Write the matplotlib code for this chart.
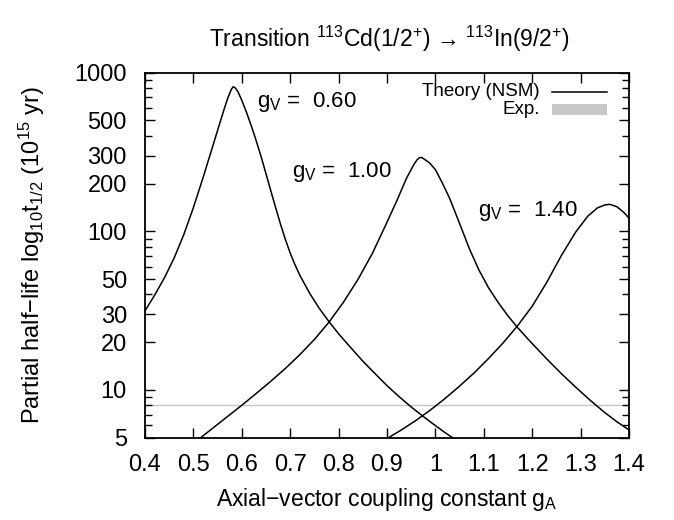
import matplotlib
matplotlib.use('Agg')
import matplotlib.pyplot as plt
from matplotlib.ticker import FixedLocator, FixedFormatter, LogLocator, NullFormatter
from matplotlib.lines import Line2D
from matplotlib.patches import Rectangle

plt.rcParams['font.family'] = ['Liberation Sans', 'DejaVu Sans']
plt.rcParams['mathtext.fontset'] = 'custom'
plt.rcParams['mathtext.rm'] = 'Liberation Sans'
plt.rcParams['mathtext.it'] = 'Liberation Sans:italic'

# curves: g_A -> partial half-life (10^15 yr)
ga_060 = [0.400, 0.420, 0.440, 0.460, 0.480, 0.500, 0.520, 0.540, 0.555, 0.565,
          0.572, 0.578, 0.582, 0.586, 0.592, 0.600, 0.610, 0.620, 0.630, 0.640,
          0.650, 0.660, 0.670, 0.680, 0.690, 0.700, 0.710, 0.720, 0.740, 0.760,
          0.780, 0.800, 0.825, 0.850, 0.875, 0.900, 0.925, 0.950, 0.975, 1.000,
          1.020, 1.040]
t_060 = [31.5, 39.6, 50.8, 67.6, 95, 141, 218, 344, 485, 608,
         703, 780, 815, 805, 760, 670, 560, 459, 371, 295,
         231, 180, 141, 111, 89, 73, 61.5, 52.8, 40.8, 32.7,
         27.0, 22.6, 18.5, 15.2, 12.7, 10.65, 9.07, 7.81, 6.80, 5.96,
         5.38, 4.89]

ga_100 = [0.514, 0.540, 0.570, 0.600, 0.630, 0.660, 0.690, 0.720, 0.750, 0.780,
          0.810, 0.840, 0.870, 0.900, 0.920, 0.940, 0.955, 0.962, 0.967, 0.972,
          0.988, 1.000, 1.015, 1.030, 1.050, 1.070, 1.090, 1.110, 1.130, 1.150,
          1.170, 1.200, 1.230, 1.260, 1.290, 1.320, 1.350, 1.375, 1.400]
t_100 = [4.97, 5.74, 6.78, 8.0, 9.51, 11.34, 13.66, 16.7, 20.8, 26.7,
         35.7, 49.7, 72.7, 114, 155, 215, 262, 282, 291, 292,
         270, 245, 200, 160, 112, 78, 57, 44, 35.5, 29.3,
         24.7, 19.6, 15.7, 12.7, 10.4, 8.6, 7.2, 6.3, 5.6]

ga_140 = [0.903, 0.930, 0.960, 0.990, 1.020, 1.050, 1.080, 1.110, 1.140, 1.170,
          1.200, 1.230, 1.260, 1.290, 1.315, 1.335, 1.350, 1.360, 1.375, 1.390,
          1.400]
t_140 = [5.0, 5.6, 6.43, 7.48, 8.83, 10.57, 12.8, 15.8, 19.8, 25.4,
         33.7, 47.6, 70.1, 99, 124.7, 140.6, 146.6, 148, 143, 131,
         121]

t_exp = 8.0

x_ticks = [0.4, 0.5, 0.6, 0.7, 0.8, 0.9, 1.0, 1.1, 1.2, 1.3, 1.4]
x_ticklabels = ['0.4', '0.5', '0.6', '0.7', '0.8', '0.9', '1', '1.1', '1.2', '1.3', '1.4']
y_ticks = [5, 10, 20, 30, 50, 100, 200, 300, 500, 1000]
y_ticklabels = ['5', '10', '20', '30', '50', '100', '200', '300', '500', '1000']

fig = plt.figure(figsize=(6.74, 5.2), dpi=100)
ax = fig.add_axes([0.2151, 0.1583, 0.7181, 0.7019])

ax.axhline(t_exp, color='#c4c4c4', linewidth=1.0, zorder=1)
ax.plot(ga_060, t_060, color='black', linewidth=1.1, zorder=2)
ax.plot(ga_100, t_100, color='black', linewidth=1.1, zorder=2)
ax.plot(ga_140, t_140, color='black', linewidth=1.1, zorder=2)

ax.set_yscale('log')
ax.set_xlim(0.4, 1.4)
ax.set_ylim(5, 1000)

ax.xaxis.set_major_locator(FixedLocator(x_ticks))
ax.xaxis.set_major_formatter(FixedFormatter(x_ticklabels))
ax.yaxis.set_major_locator(FixedLocator(y_ticks))
ax.yaxis.set_major_formatter(FixedFormatter(y_ticklabels))
ax.yaxis.set_minor_locator(LogLocator(base=10, subs=range(2, 10), numticks=20))
ax.yaxis.set_minor_formatter(NullFormatter())

ax.tick_params(which='both', direction='in', top=True, right=True, width=1.0)
ax.tick_params(which='major', length=7, labelsize=17)
ax.tick_params(which='minor', length=5)
ax.tick_params(axis='x', pad=12)
ax.tick_params(axis='y', pad=13)
for s in ax.spines.values():
    s.set_linewidth(1.3)

ax.set_xlabel('Axial\u2212vector coupling constant g$_\\mathregular{A}$', fontsize=16.5, labelpad=7)
ax.set_ylabel('Partial half\u2212life log$_\\mathregular{10}$t$_\\mathregular{1/2}$ (10$^\\mathregular{15}$ yr)',
              fontsize=17, labelpad=20)
fig.text(0.578, 0.925, 'Transition $^\\mathregular{113}$Cd(1/2$^\\mathregular{+}$) \u2192 $^\\mathregular{113}$In(9/2$^\\mathregular{+}$)',
         ha='center', va='center', fontsize=16.5)

ax.text(0.6306, 605, 'g$_\\mathregular{V}$ =  0.60', fontsize=16, ha='left', va='baseline')
ax.text(0.703, 219, 'g$_\\mathregular{V}$ =  1.00', fontsize=16, ha='left', va='baseline')
ax.text(1.0887, 125, 'g$_\\mathregular{V}$ =  1.40', fontsize=16, ha='left', va='baseline')

# key, drawn like the gnuplot one (right aligned text, sample on the right)
ax.text(0.816, 0.948, 'Theory (NSM)', transform=ax.transAxes, ha='right', va='center', fontsize=13.5)
ax.add_line(Line2D([0.840, 0.955], [0.948, 0.948], transform=ax.transAxes, color='black', linewidth=1.1))
ax.text(0.816, 0.898, 'Exp.', transform=ax.transAxes, ha='right', va='center', fontsize=13.5)
ax.add_patch(Rectangle((0.840, 0.884), 0.115, 0.029, transform=ax.transAxes,
                       facecolor='#c8c8c8', edgecolor='none'))

fig.savefig('out.png', dpi=100)
